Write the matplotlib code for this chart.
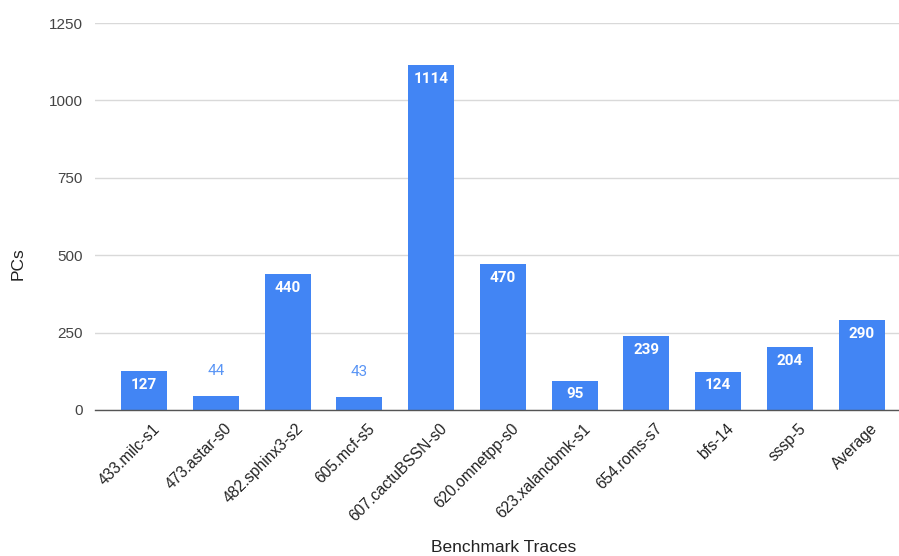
import matplotlib
matplotlib.use("Agg")
import matplotlib.pyplot as plt
from matplotlib.transforms import ScaledTranslation

categories = ["433.milc-s1", "473.astar-s0", "482.sphinx3-s2", "605.mcf-s5",
              "607.cactuBSSN-s0", "620.omnetpp-s0", "623.xalancbmk-s1",
              "654.roms-s7", "bfs-14", "sssp-5", "Average"]
pcs = [127, 44, 440, 43, 1114, 470, 95, 239, 124, 204, 290]
y_ticks = [0, 250, 500, 750, 1000, 1250]

bar_color = "#4285F4"
fig = plt.figure(figsize=(8.99, 5.56), dpi=100)
ax = fig.add_axes([0.106, 0.2626, 0.894, 0.696])

x = list(range(len(categories)))
ax.bar(x, pcs, width=0.64, color=bar_color, zorder=3)

ax.set_xlim(-0.68, 10.52)
ax.set_ylim(0, 1250)
ax.set_yticks(y_ticks)
ax.set_yticklabels([str(t) for t in y_ticks], family="Liberation Sans",
                   fontsize=11, color="#444444")
ax.tick_params(axis="y", length=0, pad=9)
ax.tick_params(axis="x", length=0, pad=8)
ax.set_xticks(x)
ax.set_xticklabels(categories, rotation=45, ha="right", va="top",
                   rotation_mode="anchor", family="Liberation Sans",
                   fontsize=11.2, color="#222222")
for lbl in ax.get_xticklabels():
    lbl.set_transform(lbl.get_transform() +
                      ScaledTranslation(0.08, 0, fig.dpi_scale_trans))

ax.grid(axis="y", color="#d9d9d9", linewidth=1, zorder=0)
for s in ["top", "right", "left"]:
    ax.spines[s].set_visible(False)
ax.spines["bottom"].set_color("#555555")
ax.spines["bottom"].set_linewidth(1)
ax.spines["bottom"].set_zorder(4)

for xi, v in zip(x, pcs):
    if v >= 80:
        ax.annotate(str(v), (xi, v), xytext=(0, -10), textcoords="offset points",
                    ha="center", va="center", color="white", fontsize=11,
                    fontweight="bold", family="Roboto", zorder=5)
    else:
        ax.annotate(str(v), (xi, v), xytext=(0, 18), textcoords="offset points",
                    ha="center", va="center", color="#5a95f5", fontsize=11,
                    family="Roboto", zorder=5)

fig.text(0.02, 0.525, "PCs", rotation=90, ha="center", va="center",
         family="Liberation Sans", fontsize=12.5, color="#222222")
fig.text(0.56, 1 - 548 / 556, "Benchmark Traces", ha="center", va="center",
         family="Liberation Sans", fontsize=12.5, color="#222222")

fig.savefig("out.png", dpi=100)
